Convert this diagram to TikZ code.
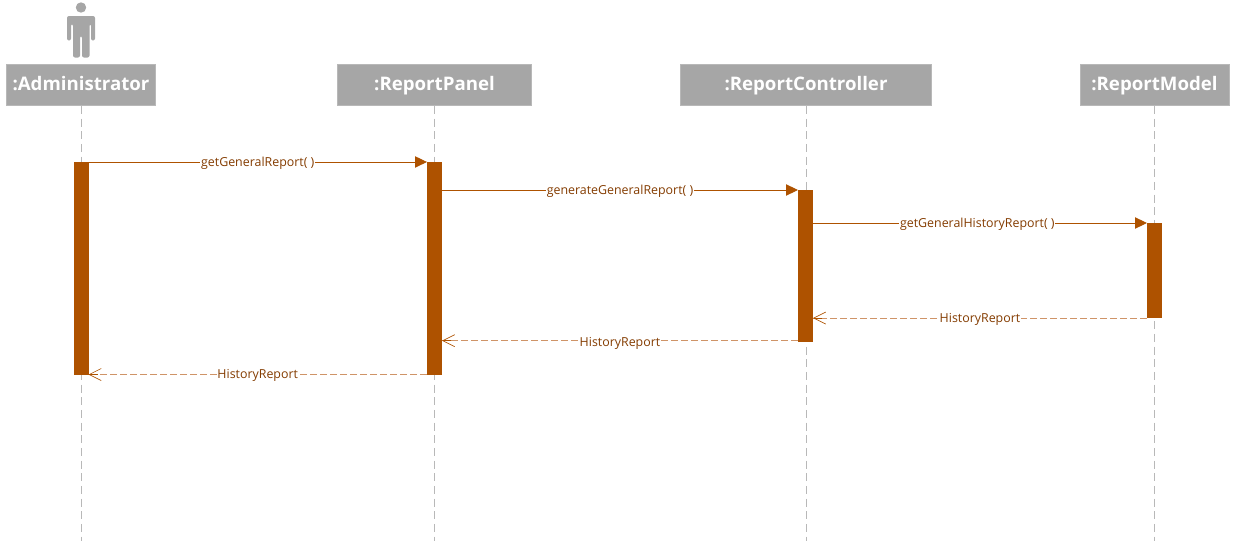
\documentclass[tikz,border=0pt]{standalone}
\usepackage{fontspec}
\setmainfont{Open Sans}
\usetikzlibrary{arrows.meta}
\definecolor{headgray}{HTML}{A6A6A6}
\definecolor{barbrown}{HTML}{AE5200}
\definecolor{retbrown}{HTML}{CF9468}
\definecolor{lblbrown}{HTML}{843C00}
\tikzset{
	head/.style={draw=headgray!80!white,fill=headgray,text=white,font=\fontsize{14}{17}\selectfont\bfseries,minimum height=31pt,inner sep=0pt,text height=10.5pt,text depth=3pt},
	lifeline/.style={draw=black!28,dash pattern=on 6pt off 3.5pt,line width=0.7pt},
	bar/.style={fill=barbrown,minimum width=11.25pt,inner sep=0pt,outer sep=0pt},
	msg/.style={draw=barbrown,line width=0.7pt,-{Triangle[length=9pt,width=8.5pt,fill=barbrown]}},
	ret/.style={draw=retbrown,line width=0.75pt,dash pattern=on 5pt off 2.5pt},
	rettip/.style={draw=barbrown,line width=0.5pt,-{Straight Barb[length=9pt,width=9pt]}},
	lbl/.style={midway,yshift=-0.8pt,fill=white,text=lblbrown,font=\fontsize{9.3}{11}\selectfont,inner xsep=0.6pt,inner ysep=0.5pt,text height=7.5pt,text depth=2pt}
}
\begin{document}
\begin{tikzpicture}[x=0.75pt,y=-0.75pt]
	\useasboundingbox (0,0) rectangle (1233,543);
	% actor
	\fill[headgray] (81,7.5) circle [radius=5.2];
	\fill[headgray,rounded corners=1.5pt] (67,40.5) -- (67,16) -- (95,16) -- (95,40.5) -- (91,40.5) -- (91,24) -- (89.5,24) -- (89.5,57.5) -- (82,57.5) -- (82,36) -- (80,36) -- (80,57.5) -- (73,57.5) -- (73,24) -- (71,24) -- (71,40.5) -- cycle;
	% heads
	\node[head,minimum width=112pt] (admin) at (81,85) {:Administrator};
	\node[head,minimum width=145.5pt] (panel) at (434.5,85) {:ReportPanel};
	\node[head,minimum width=188.5pt] (ctrl) at (806,85) {:ReportController};
	\node[head,minimum width=111.5pt] (model) at (1154.5,85) {:ReportModel};
	% lifelines
	\coordinate (adminend) at (81,541);
	\coordinate (panelend) at (434.5,541);
	\coordinate (ctrlend) at (806,541);
	\coordinate (modelend) at (1154.5,541);
	\draw[lifeline] (admin) -- (adminend);
	\draw[lifeline] (panel) -- (panelend);
	\draw[lifeline] (ctrl) -- (ctrlend);
	\draw[lifeline] (model) -- (modelend);
	% activations
	\node[bar,minimum height=159.5pt] (baradmin) at (81,268.3) {};
	\node[bar,minimum height=159.5pt] (barpanel) at (434.5,268.3) {};
	\node[bar,minimum height=114pt] (barctrl) at (805.5,266) {};
	\node[bar,minimum height=71.25pt] (barmodel) at (1154.5,270.5) {};
	% messages
	\draw[msg] (baradmin.north east) -- (barpanel.north west) node[lbl] {getGeneralReport( )};
	\draw[msg] (barpanel.east |- barctrl.north) -- (barctrl.north west) node[lbl] {generateGeneralReport( )};
	\draw[msg] (barctrl.east |- barmodel.north) -- (barmodel.north west) node[lbl,xshift=-2pt] {getGeneralHistoryReport( )};
	% returns, tip drawn on its own path
	\draw[ret] (barmodel.south west) -- (barmodel.south -| barctrl.east) node[lbl] {HistoryReport};
	\draw[ret] ([yshift=1pt]barctrl.south west) -- ([yshift=1pt]barctrl.south -| barpanel.east) node[lbl,yshift=-0.5pt] {HistoryReport};
	\draw[ret] ([yshift=0.1pt]barpanel.south west) -- ([yshift=0.1pt]baradmin.south east) node[lbl,yshift=0.7pt] {HistoryReport};
	\draw[rettip] ([xshift=7pt]barmodel.south -| barctrl.east) -- (barmodel.south -| barctrl.east);
	\draw[rettip] ([xshift=7pt,yshift=1pt]barctrl.south -| barpanel.east) -- ([yshift=1pt]barctrl.south -| barpanel.east);
	\draw[rettip] ([xshift=7pt,yshift=0.1pt]baradmin.south east) -- ([yshift=0.1pt]baradmin.south east);
\end{tikzpicture}
\end{document}
